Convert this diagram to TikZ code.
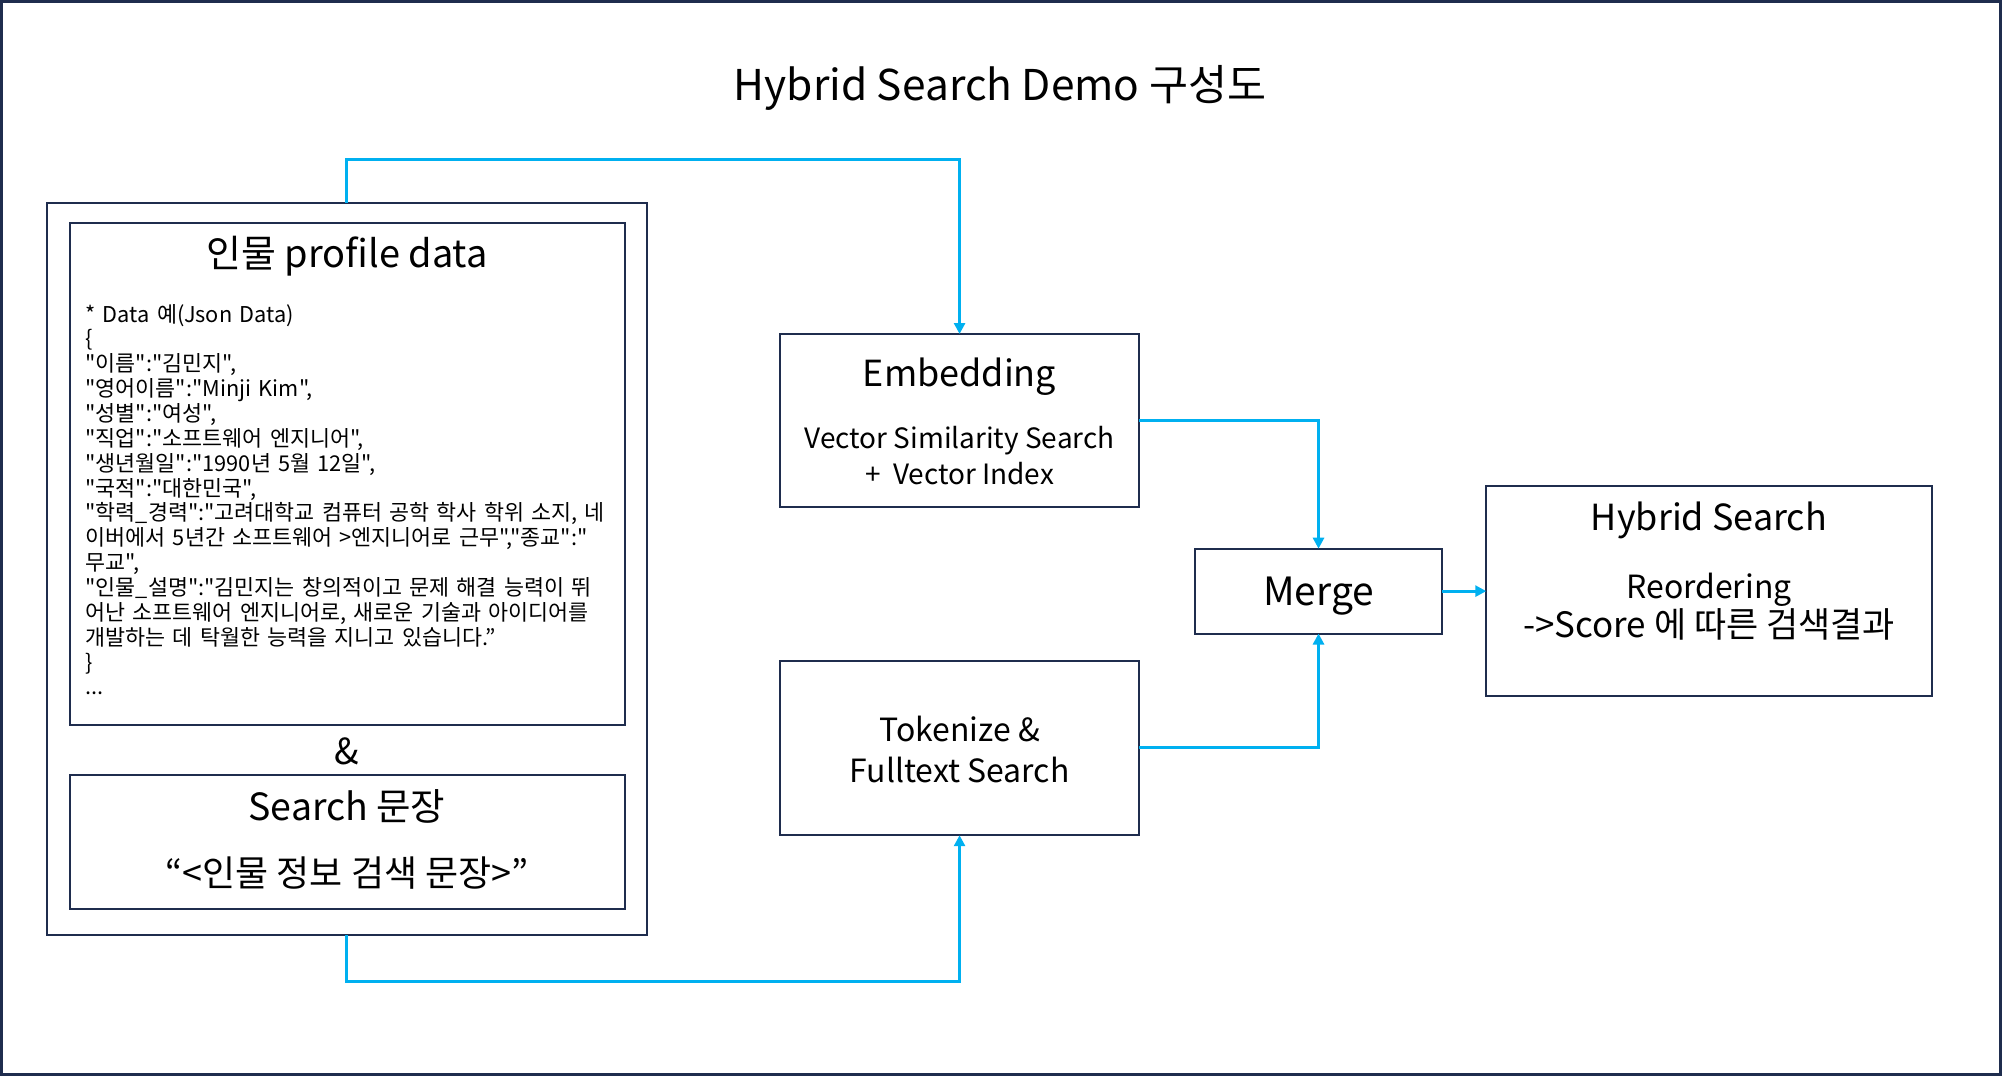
\documentclass[tikz,border=0pt]{standalone}
\usepackage{fontspec}
\setmainfont{Noto Sans CJK KR}[Ligatures=TeXOff]
\usetikzlibrary{arrows.meta}
\definecolor{navy}{HTML}{1F2D4E}
\definecolor{cyanline}{HTML}{00B0F0}
\begin{document}
\begin{tikzpicture}[x=1pt,y=-1pt,
  box/.style={draw=navy,line width=2pt,inner sep=0pt,outer sep=0pt,fill=white},
  conn/.style={draw=cyanline,line width=3pt,-{Triangle[length=11pt,width=11pt]}},
  txt/.style={inner sep=0pt,text=black,anchor=base}]
\draw[navy,line width=3pt,fill=white] (0,0) rectangle (2002,1075);
\useasboundingbox (0,0) rectangle (2002,1075);

% title
\node[txt,font=\fontsize{42.5}{50}\selectfont] (title) at (1000,99) {Hybrid Search Demo 구성도};

% boxes
\node[box,minimum width=600pt,minimum height=733pt] (outer) at (346,568.5) {};
\node[box,minimum width=555pt,minimum height=503pt] (profile) at (346.5,473.5) {};
\node[box,minimum width=555pt,minimum height=134pt] (search) at (346.5,842) {};
\node[box,minimum width=359pt,minimum height=173pt] (emb) at (959.5,419.5) {};
\node[box,minimum width=359pt,minimum height=175pt] (tok) at (959.5,747.5) {};
\node[box,minimum width=248pt,minimum height=85pt] (merge) at (1319,590.5) {};
\node[box,minimum width=446pt,minimum height=211pt] (hybrid) at (1710,590.5) {};

% texts
\node[txt,font=\fontsize{38}{44}\selectfont] (ptitle) at (346,266) {인물 profile data};
\node[inner sep=0pt,anchor=base west,text width=600pt,align=left,font=\fontsize{21.8}{24.9}\selectfont] (json) at (84,321) {%
* Data 예(Json Data)\\
\{\\
"이름":"김민지",\\
"영어이름":"Minji Kim",\\
"성별":"여성",\\
"직업":"소프트웨어 엔지니어",\\
"생년월일":"1990년 5월 12일",\\
"국적":"대한민국",\\
"학력\_경력":"고려대학교 컴퓨터 공학 학사 학위 소지, 네\\
이버에서 5년간 소프트웨어 >엔지니어로 근무","종교":"\\
무교",\\
"인물\_설명":"김민지는 창의적이고 문제 해결 능력이 뛰\\
어난 소프트웨어 엔지니어로, 새로운 기술과 아이디어를\\
개발하는 데 탁월한 능력을 지니고 있습니다.”\\
\}\\
...};
\node[txt,font=\fontsize{36}{42}\selectfont] (amp) at (346,764) {\&};
\node[txt,font=\fontsize{37.5}{44}\selectfont] (stitle) at (346,820) {Search 문장};
\node[txt,font=\fontsize{36}{42}\selectfont] (sbody) at (346,886) {“<인물 정보 검색 문장>”};

\node[txt,font=\fontsize{36}{42}\selectfont] (embt) at (959.5,386) {Embedding};
\node[txt,font=\fontsize{28}{34}\selectfont] (emb1) at (959.5,448) {Vector Similarity Search};
\node[txt,font=\fontsize{28}{34}\selectfont] (emb2) at (959.5,484) {+\hspace{0.45em}Vector Index};

\node[txt,font=\fontsize{32}{38}\selectfont] (tok1) at (959.5,741) {Tokenize \&};
\node[txt,font=\fontsize{32}{38}\selectfont] (tok2) at (959.5,782) {Fulltext Search};

\node[txt,font=\fontsize{39}{46}\selectfont] (mergt) at (1319,605) {Merge};

\node[txt,font=\fontsize{36}{42}\selectfont] (hyt) at (1710,530) {Hybrid Search};
\node[txt,font=\fontsize{32}{38}\selectfont] (hy1) at (1710,598) {Reordering};
\node[txt,font=\fontsize{35}{42}\selectfont] (hy2) at (1710,637) {->Score 에 따른 검색결과};

% connectors
\draw[conn] (outer.north) -- ++(0,-44) -| (emb.north);
\draw[conn] (outer.south) -- ++(0,46) -| (tok.south);
\draw[conn] (emb.east) -| (merge.north);
\draw[conn] (tok.east) -| (merge.south);
\draw[conn] (merge.east) -- (hybrid.west);
\end{tikzpicture}
\end{document}
